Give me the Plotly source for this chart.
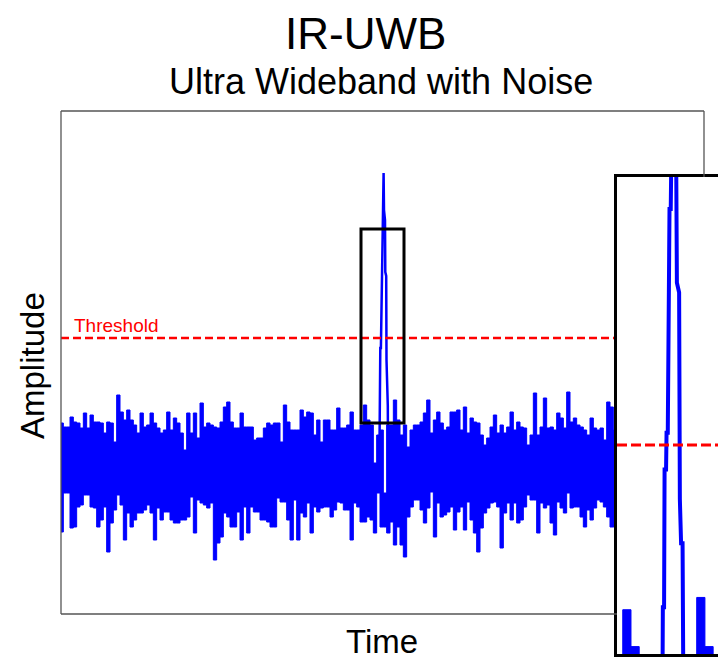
import numpy as np
import plotly.graph_objects as go

# ---- data (amplitude in arbitrary units, one value per ~3.3 px sample) ----
noise_upper = [
    0.47, 0.43, 0.43, 0.53, 0.48, 0.47, 0.42, 0.57, 0.42, 0.55,
    0.48, 0.48, 0.47, 0.37, 0.48, 0.47, 0.28, 0.75, 0.58, 0.50,
    0.60, 0.50, 0.45, 0.37, 0.57, 0.43, 0.45, 0.57, 0.47, 0.42,
    0.37, 0.40, 0.58, 0.40, 0.52, 0.47, 0.37, 0.20, 0.57, 0.37,
    0.57, 0.32, 0.67, 0.43, 0.47, 0.45, 0.43, 0.42, 0.48, 0.63,
    0.68, 0.48, 0.42, 0.42,
    0.57, 0.43, 0.43, 0.43, 0.30, 0.32, 0.32, 0.42, 0.47, 0.45,
    0.47, 0.47, 0.28, 0.65, 0.48, 0.40, 0.40, 0.40, 0.60, 0.53,
    0.58, 0.57, 0.35, 0.50, 0.28, 0.50, 0.50, 0.40, 0.40, 0.62,
    0.42, 0.42, 0.45, 0.58, 0.40, 0.40, 0.45, 0.65, 0.50, 0.45,
    0.07, 0.35, 0.40, -0.23, 0.45, 0.45, 0.70, 0.50, 0.35, 0.45,
    0.23, 0.40, 0.45, 0.45,
    0.48, 0.57, 0.70, 0.37, 0.50, 0.58, 0.47, 0.40, 0.43, 0.58,
    0.58, 0.60, 0.40, 0.63, 0.37, 0.52, 0.48, 0.47, 0.35, 0.25,
    0.32, 0.43, 0.55, 0.37, 0.45, 0.37, 0.43, 0.58, 0.40, 0.48,
    0.43, 0.42, 0.25, 0.35, 0.77, 0.35, 0.43, 0.72, 0.42, 0.43,
    0.40, 0.57, 0.52, 0.42, 0.78, 0.48, 0.52, 0.45, 0.43, 0.40,
    0.35, 0.52, 0.42, 0.40, 0.42, 0.30, 0.68, 0.63, 0.40,
]
noise_lower = [
    -0.62, -0.23, -0.23, -0.58, -0.57, -0.37, -0.35, -0.25, -0.25, -0.37,
    -0.38, -0.57, -0.50, -0.37, -0.82, -0.53, -0.40, -0.25, -0.35, -0.70,
    -0.43, -0.57, -0.50, -0.43, -0.43, -0.40, -0.35, -0.43, -0.70, -0.38,
    -0.50, -0.42, -0.42, -0.50, -0.53, -0.53, -0.50, -0.50, -0.47, -0.27,
    -0.63, -0.30, -0.33, -0.35, -0.38, -0.33, -0.90, -0.73, -0.67, -0.43,
    -0.47, -0.57, -0.57, -0.42,
    -0.70, -0.37, -0.63, -0.37, -0.42, -0.42, -0.50, -0.50, -0.52, -0.57,
    -0.57, -0.28, -0.32, -0.32, -0.50, -0.70, -0.30, -0.70, -0.43, -0.47,
    -0.33, -0.63, -0.37, -0.42, -0.38, -0.37, -0.37, -0.47, -0.40, -0.32,
    -0.33, -0.40, -0.40, -0.70, -0.33, -0.37, -0.52, -0.52, -0.47, -0.50,
    -0.63, -0.23, -0.57, -0.57, -0.63, -0.52, -0.75, -0.57, -0.75, -0.87,
    -0.47, -0.37, -0.30, -0.30,
    -0.40, -0.53, -0.38, -0.22, -0.67, -0.33, -0.47, -0.45, -0.42, -0.37,
    -0.60, -0.42, -0.37, -0.60, -0.32, -0.50, -0.63, -0.82, -0.58, -0.43,
    -0.38, -0.33, -0.32, -0.37, -0.78, -0.43, -0.33, -0.50, -0.33, -0.53,
    -0.50, -0.37, -0.25, -0.30, -0.30, -0.63, -0.33, -0.38, -0.35, -0.53,
    -0.65, -0.32, -0.38, -0.43, -0.23, -0.38, -0.37, -0.37, -0.47, -0.57,
    -0.40, -0.50, -0.38, -0.30, -0.32, -0.37, -0.47, -0.57, -0.57,
]
pulse_t = [95.79, 95.88, 96.03, 96.09, 96.27, 96.33, 96.48, 96.54, 96.63, 96.69,
           96.84, 96.93, 97.08, 97.20, 97.50, 97.59, 97.86, 97.95, 98.10, 98.28,
           98.34, 98.43]
pulse_a = [0.00, 0.66, 0.66, 1.22, 1.22, 1.37, 1.37, 1.78, 1.78, 2.28,
           2.28, 2.97, 2.97, 2.60, 2.50, 1.98, 1.94, 1.10, 0.92, 0.92,
           0.64, 0.00]
threshold = 1.32
zoom_t = [90.3, 103.2]      # zoom window (time)
zoom_a = [0.47, 2.41]       # zoom window (amplitude)
time_range = [0.3, 193.2]
amp_range = [-1.44, 3.59]

# ---- layout geometry: the page body has an 8 px margin, so work in page pixels ----
OFF = 8
W, H = 726 - OFF, 660 - OFF


def px(x):
    return (x - OFF) / W


def py(y):
    return 1 - (y - OFF) / H


main_dx = [px(61), px(704)]
main_dy = [py(614), py(111)]
ins_dx = [px(617), min(1.0, px(723))]
ins_dy = [py(654), py(177)]

BLUE = "#0000ff"
RED = "#ff0000"
FONT = "Liberation Sans, Arial, sans-serif"

t = np.arange(len(noise_upper) + 1)
up = noise_upper + [noise_upper[-1]]
lo = noise_lower + [noise_lower[-1]]

fig = go.Figure()
for xa, ya, pw, tw, dash, tx in [
    ("x", "y", 2.5, 2.5, "8px,4px", [time_range[0], float(t[-1])]),
    ("x2", "y2", 4, 3, "10px,4px", zoom_t),
]:
    fig.add_trace(go.Scatter(x=t, y=up, mode="lines", xaxis=xa, yaxis=ya,
                             line=dict(color=BLUE, width=1, shape="hv"),
                             hoverinfo="skip", showlegend=False))
    fig.add_trace(go.Scatter(x=t, y=lo, mode="lines", xaxis=xa, yaxis=ya,
                             line=dict(color=BLUE, width=1, shape="hv"),
                             fill="tonexty", fillcolor=BLUE,
                             hoverinfo="skip", showlegend=False))
    fig.add_trace(go.Scatter(x=pulse_t, y=pulse_a, mode="lines", xaxis=xa, yaxis=ya,
                             line=dict(color=BLUE, width=pw),
                             hoverinfo="skip", showlegend=False))
    fig.add_trace(go.Scatter(x=tx, y=[threshold, threshold], mode="lines",
                             xaxis=xa, yaxis=ya,
                             line=dict(color=RED, width=tw, dash=dash),
                             hoverinfo="skip", showlegend=False))

ax_common = dict(showgrid=False, zeroline=False, showticklabels=False, ticks="")
fig.update_layout(
    width=W, height=H,
    margin=dict(l=0, r=0, t=0, b=0),
    paper_bgcolor="white", plot_bgcolor="white",
    xaxis=dict(domain=main_dx, range=time_range, showline=False, **ax_common),
    yaxis=dict(domain=main_dy, range=amp_range, showline=False, **ax_common),
    xaxis2=dict(domain=ins_dx, range=zoom_t, anchor="y2", showline=True,
                linewidth=3, linecolor="black", mirror=True, **ax_common),
    yaxis2=dict(domain=ins_dy, range=zoom_a, anchor="x2", showline=True,
                linewidth=3, linecolor="black", mirror=False, **ax_common),
    showlegend=False,
)

frame = dict(color="#555555", width=1.3)
shapes = [
    dict(type="line", xref="paper", yref="paper", x0=main_dx[0], x1=main_dx[1],
         y0=main_dy[1], y1=main_dy[1], line=frame),
    dict(type="line", xref="paper", yref="paper", x0=main_dx[0], x1=main_dx[0],
         y0=main_dy[0], y1=main_dy[1], line=frame),
    dict(type="line", xref="paper", yref="paper", x0=main_dx[0], x1=ins_dx[0],
         y0=main_dy[0], y1=main_dy[0], line=frame),
    dict(type="line", xref="paper", yref="paper", x0=main_dx[1], x1=main_dx[1],
         y0=main_dy[1], y1=ins_dy[1], line=frame),
    dict(type="rect", xref="x", yref="y", x0=zoom_t[0], x1=zoom_t[1],
         y0=zoom_a[0], y1=zoom_a[1], line=dict(color="black", width=3),
         layer="above"),
]
fig.update_layout(shapes=shapes)

ann = [
    dict(text="IR-UWB", xref="paper", yref="paper", x=px(365), y=1.0,
         showarrow=False, xanchor="center", yanchor="top", borderpad=0,
         font=dict(family=FONT, size=44, color="black")),
    dict(text="Ultra Wideband with Noise", xref="paper", yref="paper",
         x=px(381), y=py(81), showarrow=False, xanchor="center",
         yanchor="middle", font=dict(family=FONT, size=36, color="black")),
    dict(text="Time", xref="paper", yref="paper", x=px(382), y=py(641),
         showarrow=False, xanchor="center", yanchor="middle",
         font=dict(family=FONT, size=33, color="black")),
    dict(text="Amplitude", xref="paper", yref="paper", x=px(32), y=py(366),
         showarrow=False, xanchor="center", yanchor="middle", textangle=-90,
         font=dict(family=FONT, size=33, color="black")),
    dict(text="Threshold", xref="x", yref="y", x=3.6, y=threshold,
         showarrow=False, xanchor="left", yanchor="bottom", yshift=0,
         font=dict(family=FONT, size=19, color=RED)),
]
fig.update_layout(annotations=ann)

fig.write_html("out.html")
